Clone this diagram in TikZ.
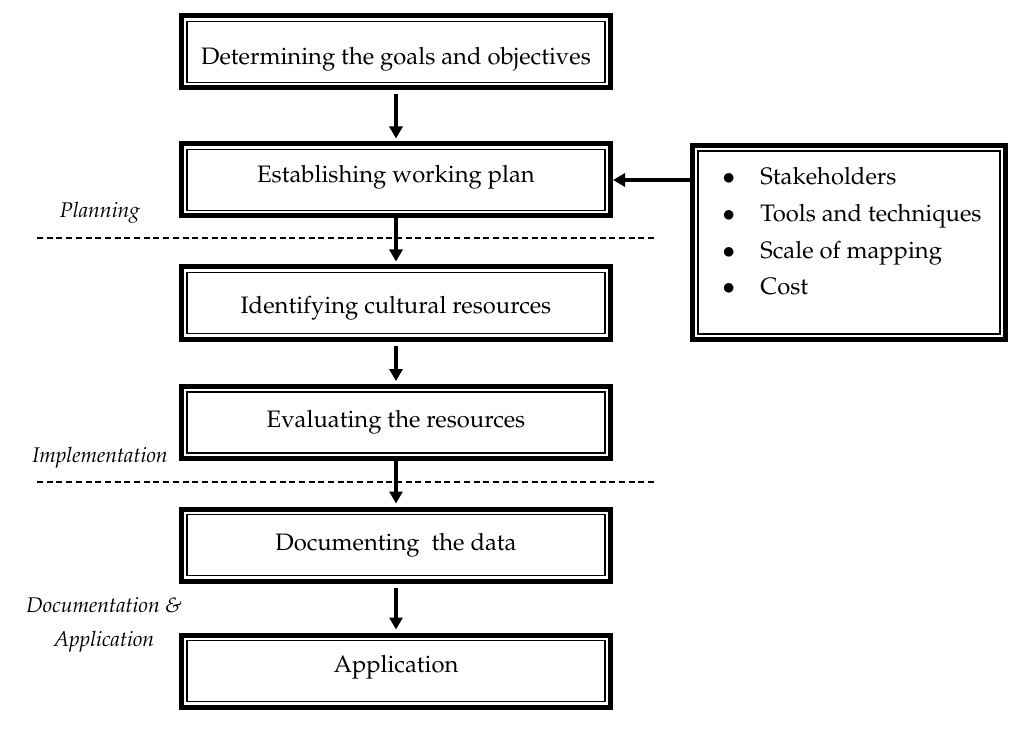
\documentclass[tikz,border=0pt]{standalone}
\usepackage[T1]{fontenc}
\usepackage{mathpazo}
\usetikzlibrary{arrows.meta}
\newcommand{\mvtext}[2]{\raisebox{#1}[\height][\depth]{#2}}
\begin{document}
\begin{tikzpicture}[x=0.5pt,y=-0.5pt,
  stepbox/.style={draw=black, line width=2.5pt, minimum width=214.5pt,
    minimum height=36pt, inner sep=0pt,
    font=\fontsize{11.9pt}{14pt}\selectfont,
    path picture={\draw[line width=0.65pt]
      ([xshift=2.75pt,yshift=-2.75pt]path picture bounding box.north west) rectangle
      ([xshift=-2.75pt,yshift=2.75pt]path picture bounding box.south east);}},
  arr/.style={line width=1.75pt, -{Triangle[length=6pt,width=6.5pt]}},
  sepline/.style={line width=0.65pt, dash pattern=on 3pt off 1.85pt},
  lab/.style={font=\fontsize{10.6pt}{17pt}\selectfont\itshape, inner sep=0pt}]
\useasboundingbox (0,0) rectangle (1026,737);

% separators
\draw[sepline] (37,238) -- (655,238);
\draw[sepline] (37,482) -- (655,482);

% main column
\node[stepbox] (b1) at (396,52) {\mvtext{-3.5pt}{Determining the goals and objectives}};
\node[stepbox] (b2) at (396,180) {\mvtext{1.5pt}{Establishing working plan}};
\node[stepbox] (b3) at (396,303) {\mvtext{-2.5pt}{Identifying cultural resources}};
\node[stepbox] (b4) at (396,422.5) {Evaluating the resources};
\node[stepbox] (b5) at (396,545) {Documenting\ \ the data};
\node[stepbox] (b6) at (396,671) {\mvtext{2pt}{Application}};

% side box
\node[stepbox, minimum width=156.5pt, minimum height=97pt] (side) at (849,242.5) {};
\node[anchor=base west, inner sep=0pt, font=\fontsize{11.9pt}{18.33pt}\selectfont]
  (sidetext) at (722,185) {%
  \begin{tabular}[t]{@{}l@{}l@{}}
  \makebox[19pt][l]{$\bullet$} & Stakeholders\\
  \makebox[19pt][l]{$\bullet$} & Tools and techniques\\
  \makebox[19pt][l]{$\bullet$} & Scale of mapping\\
  \makebox[19pt][l]{$\bullet$} & Cost
  \end{tabular}};

% phase labels
\node[lab, anchor=base] (plan) at (100,218) {Planning};
\node[lab, anchor=base] (impl) at (100,462) {Implementation};
\node[lab, align=center] (docu) at (104,625) {Documentation \&\\Application};

% arrows
\draw[arr, shorten <=2pt, shorten >=1.5pt] (b1.south) -- (b2.north);
\draw[arr, shorten >=1.5pt] (b2.south) -- (b3.north);
\draw[arr, shorten <=2pt, shorten >=1.5pt] (b3.south) -- (b4.north);
\draw[arr, shorten >=1.5pt] (b4.south) -- (b5.north);
\draw[arr, shorten <=2pt, shorten >=1.5pt] (b5.south) -- (b6.north);
\draw[arr] (side.west |- b2.east) -- (b2.east);
\end{tikzpicture}
\end{document}
